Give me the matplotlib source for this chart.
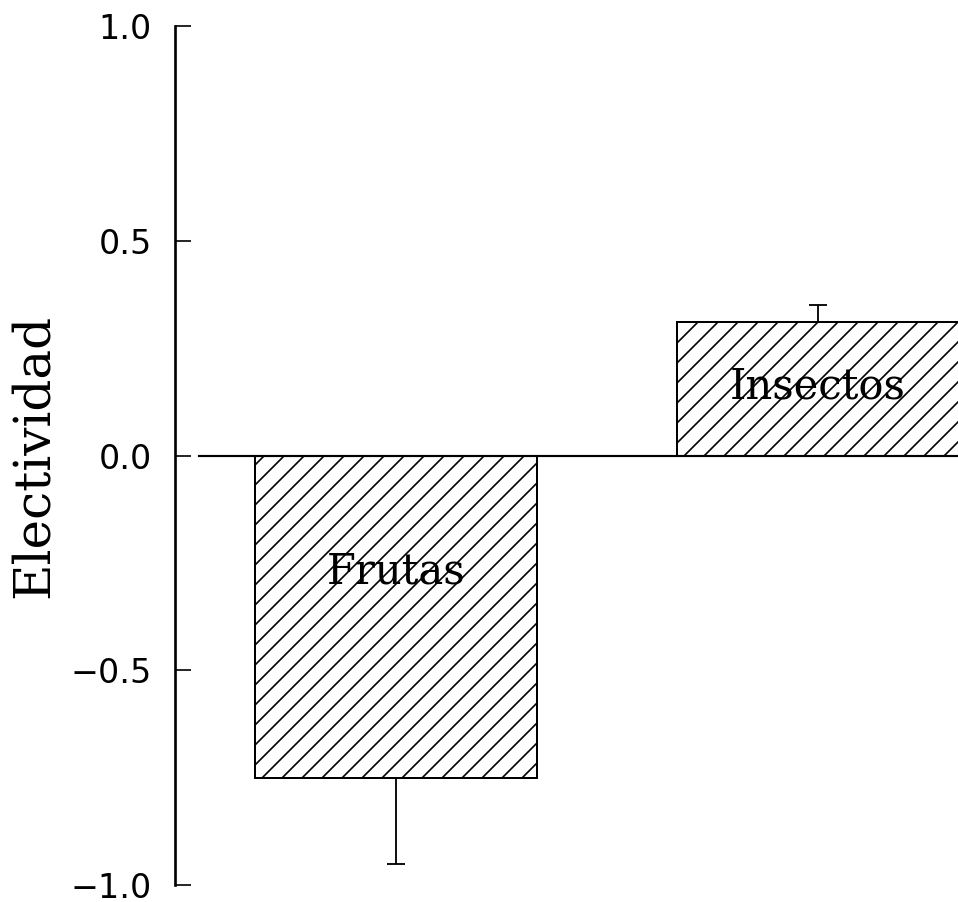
import matplotlib
matplotlib.use("Agg")
import matplotlib.pyplot as plt

# ------------------------------------------------------------------ #
#  Data                                                               #
# ------------------------------------------------------------------ #
categories = ["Frutas", "Insectos"]
electividad = [-0.75, 0.31]
err_low = [0.20, 0.0]
err_high = [0.0, 0.04]
yticks = [-1.0, -0.5, 0.0, 0.5, 1.0]

DPI = 120
plt.rcParams["hatch.linewidth"] = 1.0
plt.rcParams["hatch.color"] = "black"

fig = plt.figure(figsize=(958 / DPI, 902 / DPI), dpi=DPI)
ax = fig.add_axes([175 / 958, 17 / 902, 783 / 958, 859 / 902])

x = list(range(len(categories)))
ax.bar(x, electividad, width=0.67, facecolor="white", edgecolor="black",
       linewidth=1.2, hatch="//", zorder=2)
ax.errorbar(x, electividad, yerr=[err_low, err_high], fmt="none",
            ecolor="black", elinewidth=1.1, capsize=5.4, capthick=1.1, zorder=3)

# zero reference line
ax.axhline(0, xmin=0.031, xmax=1.0, color="black", linewidth=1.3, zorder=4)

# category labels inside the bars
label_y = [-0.27, 0.16]
for xi, name, ly in zip(x, categories, label_y):
    ax.text(xi, ly, name, ha="center", va="center", fontsize=25,
            family="DejaVu Serif", color="black", zorder=5)

ax.set_xlim(-0.524, 1.332)
ax.set_ylim(-1.0, 1.0)
ax.set_yticks(yticks)
ax.set_yticklabels([f"{t:.1f}".replace("-", "\u2212") for t in yticks],
                   fontsize=20, family="DejaVu Sans")
ax.set_xticks([])

for side in ["top", "right", "bottom"]:
    ax.spines[side].set_visible(False)
ax.spines["left"].set_linewidth(1.6)
ax.tick_params(axis="y", direction="in", length=9.6, width=1.0, pad=14)

ax.set_ylabel("Electividad", fontsize=30, family="DejaVu Serif")
ax.yaxis.set_label_coords(-0.148, 0.5)

fig.savefig("out.png", dpi=DPI, facecolor="white")
plt.close(fig)
